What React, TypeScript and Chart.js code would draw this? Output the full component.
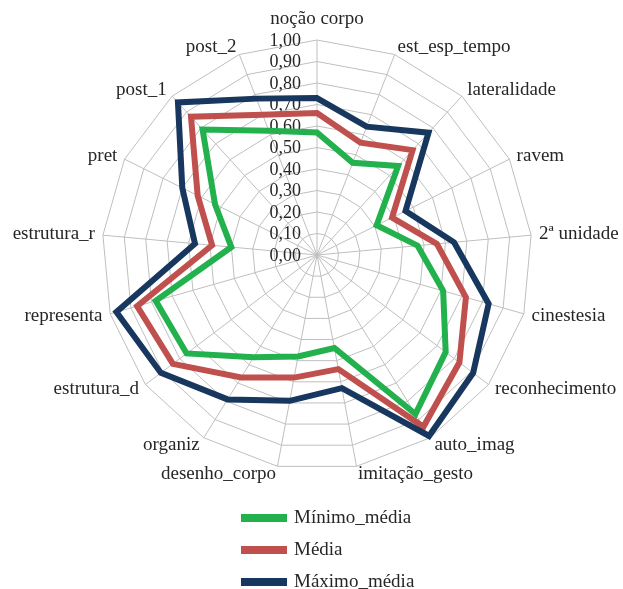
import React, { useEffect, useRef } from 'react';
import { Chart, registerables } from 'chart.js';

Chart.register(...registerables);

const categories = [
  'noção corpo',
  'est_esp_tempo',
  'lateralidade',
  'ravem',
  '2ª unidade',
  'cinestesia',
  'reconhecimento',
  'auto_imag',
  'imitação_gesto',
  'desenho_corpo',
  'organiz',
  'estrutura_d',
  'representa',
  'estrutura_r',
  'pret',
  'post_1',
  'post_2',
];

const minimoMedia = [0.57, 0.46, 0.56, 0.31, 0.47, 0.61, 0.75, 0.87, 0.44, 0.48, 0.56, 0.76, 0.78, 0.4, 0.53, 0.79, 0.62];
const media = [0.66, 0.56, 0.66, 0.39, 0.56, 0.72, 0.83, 0.94, 0.54, 0.58, 0.67, 0.84, 0.87, 0.49, 0.62, 0.87, 0.7];
const maximoMedia = [0.73, 0.64, 0.77, 0.46, 0.64, 0.83, 0.91, 0.99, 0.63, 0.69, 0.79, 0.91, 0.97, 0.57, 0.7, 0.96, 0.78];

const seriesNames = ['Mínimo_média', 'Média', 'Máximo_média'];
const seriesColors = ['#22B14C', '#C0504D', '#17375E'];

const tickValues = [0, 0.1, 0.2, 0.3, 0.4, 0.5, 0.6, 0.7, 0.8, 0.9, 1.0];
const tickLabels = ['0,00', '0,10', '0,20', '0,30', '0,40', '0,50', '0,60', '0,70', '0,80', '0,90', '1,00'];

const FONT = '"Liberation Serif", "Times New Roman", serif';

const tickPlugin = {
  id: 'excelTicks',
  beforeDatasetsDraw(chart: any) {
    const scale = chart.scales.r;
    const ctx = chart.ctx;
    ctx.save();
    ctx.font = `18px ${FONT}`;
    ctx.fillStyle = '#262626';
    ctx.textAlign = 'right';
    ctx.textBaseline = 'middle';
    tickValues.forEach((v, i) => {
      const d = scale.getDistanceFromCenterForValue(v);
      ctx.fillText(tickLabels[i], scale.xCenter - 16, scale.yCenter - d + 1);
    });
    ctx.restore();
  },
};

const labelPlugin = {
  id: 'excelLabels',
  afterDraw(chart: any) {
    const scale = chart.scales.r;
    const ctx = chart.ctx;
    ctx.save();
    ctx.font = `19px ${FONT}`;
    ctx.fillStyle = '#262626';
    ctx.textBaseline = 'middle';
    const labels = chart.data.labels as string[];
    labels.forEach((lab, i) => {
      if (i === 0) {
        const p = scale.getPointPosition(i, scale.drawingArea + 21);
        ctx.textAlign = 'center';
        ctx.fillText(lab, p.x, p.y);
        return;
      }
      const p = scale.getPointPosition(i, scale.drawingArea + 8);
      ctx.textAlign = p.x > scale.xCenter ? 'left' : 'right';
      ctx.fillText(lab, p.x, p.y);
    });
    ctx.restore();
  },
};

const legendPlugin = {
  id: 'excelLegend',
  afterDraw(chart: any) {
    const ctx = chart.ctx;
    const x0 = 241;
    const rows = [518, 550, 582];
    ctx.save();
    ctx.font = `19px ${FONT}`;
    ctx.textBaseline = 'middle';
    ctx.textAlign = 'left';
    chart.data.datasets.forEach((ds: any, i: number) => {
      const y = rows[i];
      ctx.fillStyle = ds.borderColor;
      ctx.fillRect(x0, y - 4, 46, 8);
      ctx.fillStyle = '#262626';
      ctx.fillText(ds.label, x0 + 53, y);
    });
    ctx.restore();
  },
};

export default function App() {
  const canvasRef = useRef<HTMLCanvasElement | null>(null);

  useEffect(() => {
    document.body.style.margin = '0';
    const canvas = canvasRef.current;
    if (!canvas) return;
    const seriesData = [minimoMedia, media, maximoMedia];
    const chart = new Chart(canvas, {
      type: 'radar',
      data: {
        labels: categories,
        datasets: seriesData.map((d, i) => ({
          label: seriesNames[i],
          data: d,
          borderColor: seriesColors[i],
          backgroundColor: 'rgba(0,0,0,0)',
          borderWidth: 6,
          pointRadius: 0,
          pointHoverRadius: 0,
          fill: false,
          tension: 0,
          borderJoinStyle: 'miter',
          order: 3 - i,
        })),
      },
      options: {
        responsive: false,
        animation: false,
        layout: { padding: { left: 102, right: 91, top: 40, bottom: 119 } },
        plugins: {
          legend: { display: false },
          tooltip: { enabled: false },
        },
        scales: {
          r: {
            min: 0,
            max: 1,
            beginAtZero: true,
            ticks: { display: false, stepSize: 0.1 },
            pointLabels: { display: false },
            grid: { color: '#BFBFBF', lineWidth: 1, circular: false },
            angleLines: { color: '#BFBFBF', lineWidth: 1 },
          },
        },
      },
      plugins: [tickPlugin, labelPlugin, legendPlugin],
    } as any);
    return () => chart.destroy();
  }, []);

  return (
    <div style={{ width: 623, height: 589, background: '#fff' }}>
      <canvas ref={canvasRef} width={623} height={589} style={{ display: 'block' }} />
    </div>
  );
}
